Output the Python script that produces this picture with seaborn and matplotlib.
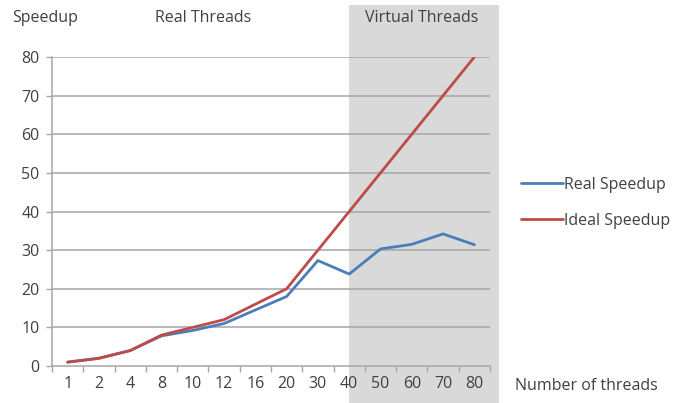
import matplotlib
matplotlib.use("Agg")
import matplotlib.pyplot as plt
import pandas as pd
import seaborn as sns

# data
threads = ["1", "2", "4", "8", "10", "12", "16", "20", "30", "40", "50", "60", "70", "80"]
real_speedup = [1, 2, 4, 7.8, 9.2, 11, 14.5, 18, 27.3, 23.8, 30.3, 31.5, 34.2, 31.4]
ideal_speedup = [1, 2, 4, 8, 10, 12, 16, 20, 30, 40, 50, 60, 70, 80]
y_ticks = [0, 10, 20, 30, 40, 50, 60, 70, 80]

df = pd.DataFrame({
    "threads": threads * 2,
    "speedup": real_speedup + ideal_speedup,
    "series": ["Real Speedup"] * len(threads) + ["Ideal Speedup"] * len(threads),
})

sns.set_theme(style="white")
plt.rcParams["font.family"] = ["Open Sans", "DejaVu Sans"]
txt = "#404040"
fs = 11.5

fig = plt.figure(figsize=(6.83, 4.03), dpi=100)
ax = fig.add_axes([52 / 683, 37 / 403, 438 / 683, 309 / 403])
ax.set_facecolor("none")

# shaded "virtual threads" band, spills past the axes like the original
ax.axvspan(threads.index("40"), 13.78, ymin=-0.12, ymax=1.168,
           color="#d9d9d9", clip_on=False, zorder=0, lw=0)

for y in y_ticks[1:]:
    ax.axhline(y, color="#a6a6a6", lw=1.1, zorder=1)

sns.lineplot(data=df, x="threads", y="speedup", hue="series", ax=ax,
             palette={"Real Speedup": "#4a7ebb", "Ideal Speedup": "#be4b48"},
             lw=2.0, legend=False, zorder=3)

ax.set_xlim(-0.5, 13.5)
ax.set_ylim(0, 80)
ax.set_yticks(y_ticks)
ax.set_xlabel("")
ax.set_ylabel("")
ax.set_xticks(range(len(threads)))
ax.set_xticklabels(threads)
ax.set_xticks([i - 0.5 for i in range(len(threads) + 1)], minor=True)
ax.tick_params(axis="x", which="major", length=0, pad=7, labelsize=fs, labelcolor=txt)
ax.tick_params(axis="x", which="minor", length=4, color="#a6a6a6", width=1, bottom=True)
ax.tick_params(axis="y", length=4, color="#a6a6a6", width=1, left=True, pad=5,
               labelsize=fs, labelcolor=txt)

for s in ["top", "right"]:
    ax.spines[s].set_visible(False)
for s in ["left", "bottom"]:
    ax.spines[s].set_color("#a6a6a6")
    ax.spines[s].set_linewidth(1.1)

fig.text(12 / 683, 1 - 18 / 403, "Speedup", color=txt, fontsize=fs, va="center")
fig.text(155 / 683, 1 - 18 / 403, "Real Threads", color=txt, fontsize=fs, va="center")
fig.text(365 / 683, 1 - 18 / 403, "Virtual Threads", color=txt, fontsize=fs, va="center")
fig.text(515 / 683, 1 - 386 / 403, "Number of threads", color=txt, fontsize=fs, va="center")

handles = [plt.Line2D([], [], color="#4a7ebb", lw=2.0),
           plt.Line2D([], [], color="#be4b48", lw=2.0)]
fig.legend(handles, ["Real Speedup", "Ideal Speedup"], loc="center left",
           bbox_to_anchor=(507 / 683, 1 - 203 / 403), frameon=False,
           handlelength=2.6, handletextpad=0.05, labelspacing=1.25,
           fontsize=fs, labelcolor=txt)

fig.savefig("out.png", dpi=100)
